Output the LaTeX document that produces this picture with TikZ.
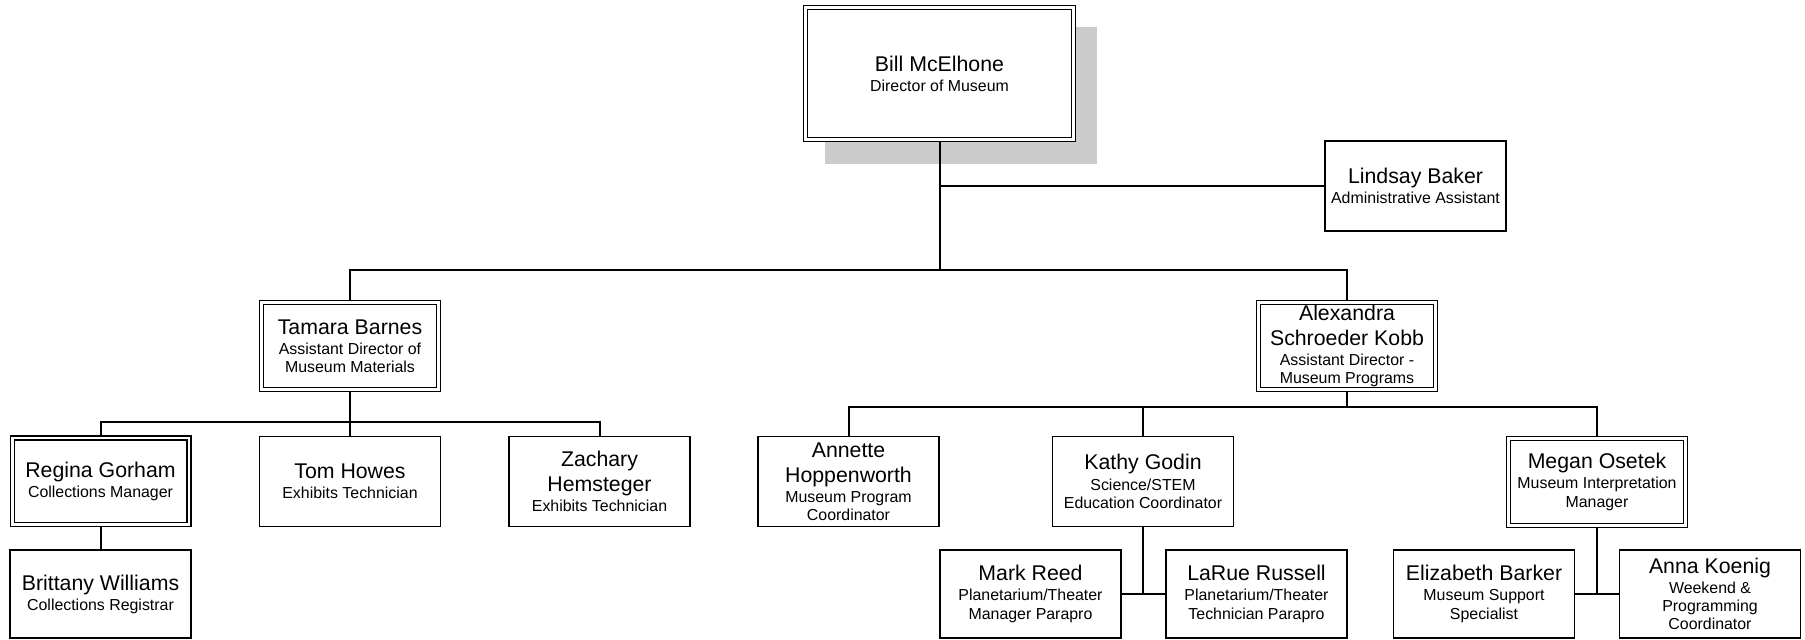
\documentclass[tikz,border=0pt]{standalone}
\usepackage{fontspec}
\setmainfont{Liberation Sans}
\newcommand{\namefont}{\fontsize{10.65}{12.5}\selectfont}
\newcommand{\titlefont}{\fontsize{7.95}{9.15}\selectfont\lineskiplimit=-20pt\relax}
\tikzset{
    person/.style={draw, fill=white, line width=0.75pt, inner sep=0pt, minimum width=90.5pt, minimum height=45pt, align=center, font=\titlefont},
    manager/.style={person, line width=0.7pt, double, double distance=1.3pt, outer sep=1.35pt, minimum width=88.3pt, minimum height=43.3pt},
    link/.style={line width=1pt}
}
\begin{document}
\begin{tikzpicture}[x=0.5pt, y=-0.5pt]
    % page frame
    \useasboundingbox (0, 0) rectangle (1805, 640);
    % shadow of the director box
    \fill [black!20] (825, 27) rectangle (1097, 164);
    % director
    \node [manager, minimum width=133.8pt, minimum height=65.8pt] (director) at (939.5, 73.5) {\namefont Bill McElhone\\[0.9pt] Director of Museum};
    % assistant
    \node [person] (lindsay) at (1415.5, 186) {\namefont Lindsay Baker\\[0.9pt] Administrative Assistant};
    % assistant directors
    \node [manager] (tamara) at (350, 346) {\namefont Tamara Barnes\\[0.9pt] Assistant Director of\\Museum Materials};
    \node [manager] (alexandra) at (1347, 346) {\namefont Alexandra\\[3.35pt]\namefont Schroeder Kobb\\[0.9pt] Assistant Director -\\Museum Programs};
    % museum materials staff
    \node [manager] (regina) at (100.5, 481.5) {\namefont Regina Gorham\\[0.9pt] Collections Manager};
    \node [person] (tom) at (350, 481.5) {\namefont Tom Howes\\[0.9pt] Exhibits Technician};
    \node [person] (zachary) at (599.5, 481.5) {\namefont Zachary\\[3.35pt]\namefont Hemsteger\\[0.9pt] Exhibits Technician};
    \node [person, minimum height=44pt] (brittany) at (100.5, 594) {\namefont Brittany Williams\\[0.9pt] Collections Registrar};
    % museum programs staff
    \node [person] (annette) at (848.5, 481.5) {\namefont Annette\\[3.35pt]\namefont Hoppenworth\\[0.9pt] Museum Program\\Coordinator};
    \node [person] (kathy) at (1143, 481.5) {\namefont Kathy Godin\\[0.9pt] Science/STEM\\Education Coordinator};
    \node [manager] (megan) at (1597, 482) {\namefont Megan Osetek\\[0.9pt] Museum Interpretation\\Manager};
    \node [person, minimum height=44pt] (mark) at (1030.5, 594) {\namefont Mark Reed\\[0.9pt] Planetarium/Theater\\Manager Parapro};
    \node [person, minimum height=44pt] (larue) at (1256.5, 594) {\namefont LaRue Russell\\[0.9pt] Planetarium/Theater\\Technician Parapro};
    \node [person, minimum height=44pt] (elizabeth) at (1484, 594) {\namefont Elizabeth Barker\\[0.9pt] Museum Support\\Specialist};
    \node [person, minimum height=44pt] (anna) at (1710, 594) {\namefont Anna Koenig\\[0.9pt] Weekend \&\\Programming\\Coordinator};
    % bus points
    \coordinate (topbus) at (939.5, 270);
    \coordinate (leftbus) at (350, 422);
    \coordinate (rightbus) at (1347, 407);
    % director to assistant and assistant directors
    \draw [link] (director.south) |- (lindsay.west);
    \draw [link] (director.south) -- (topbus);
    \draw [link] (tamara.north) |- (topbus) -| (alexandra.north);
    % museum materials lines
    \draw [link] (tamara.south) -- (leftbus);
    \draw [link] (regina.north) |- (leftbus) -| (zachary.north);
    \draw [link] (leftbus) -- (tom.north);
    \draw [link] (regina.south) -- (brittany.north);
    % museum programs lines
    \draw [link] (alexandra.south) -- (rightbus);
    \draw [link] (annette.north) |- (rightbus) -| (megan.north);
    \draw [link] (kathy.north |- rightbus) -- (kathy.north);
    % planetarium pair
    \draw [link] (kathy.south) -- (kathy.south |- mark.east);
    \draw [link] (mark.east) -- (larue.west);
    % interpretation pair
    \draw [link] (megan.south) -- (megan.south |- elizabeth.east);
    \draw [link] (elizabeth.east) -- (anna.west);
\end{tikzpicture}
\end{document}
